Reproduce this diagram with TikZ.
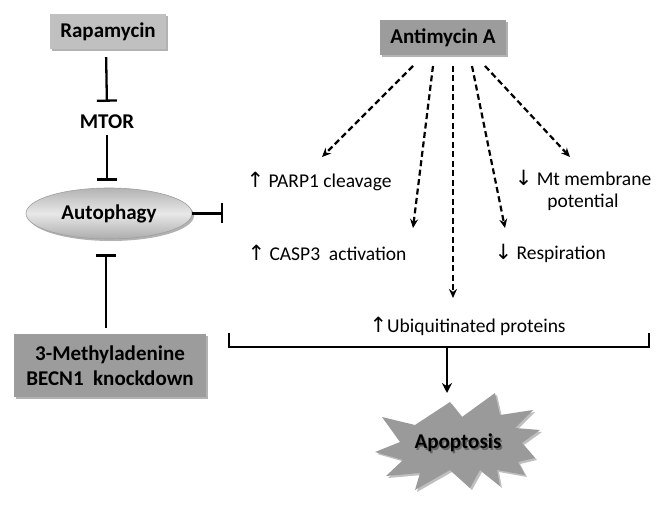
\documentclass[tikz,border=0pt]{standalone}
\usepackage{fontspec}
\setmainfont{Carlito}
\newfontfamily\arr{DejaVu Sans}
\usetikzlibrary{arrows.meta,shapes.geometric,shadows,calc}
\definecolor{lightbox}{HTML}{C0C0C0}
\definecolor{darkbox}{HTML}{9C9C9C}
\definecolor{burst}{HTML}{9A9A9A}
\newcommand{\up}{{\arr\fontsize{21}{22}\selectfont ↑}}
\newcommand{\dn}{{\arr\fontsize{21}{22}\selectfont ↓}}
\begin{document}
\begin{tikzpicture}[x=1pt,y=-1pt,
  bt/.style={font=\fontsize{21}{25}\selectfont\bfseries},
  nt/.style={font=\fontsize{19.5}{22}\selectfont},
  shad/.style={drop shadow={shadow xshift=2pt,shadow yshift=-2pt,opacity=0.3,fill=black}},
  lbox/.style={bt,fill=lightbox,shad,inner sep=0pt},
  dbox/.style={bt,fill=darkbox,shad,inner sep=0pt,align=center},
  inh/.style={line width=2.3pt,-{Bar[width=20pt,line width=2.3pt]}},
  dsh/.style={line width=2.2pt,dash pattern=on 6pt off 3.5pt,-{Stealth[length=9pt,width=8pt]}},
  sol/.style={line width=2.3pt}
]
\useasboundingbox (0,0) rectangle (662,505);
% left column
\node[lbox,minimum width=116pt,minimum height=35pt] (rap) at (108,31.5) {Rapamycin};
\node[bt,minimum height=26pt,inner sep=0pt] (mtor) at (107,122) {MTOR};
\node[bt,ellipse,minimum width=166pt,minimum height=51pt,inner sep=0pt,
      draw=gray!75,line width=0.6pt,top color=gray!60,bottom color=gray!65,middle color=gray!18,shad] (aut) at (109,213.5) {Autophagy};
\node[dbox,minimum width=192pt,minimum height=63pt] (ma) at (110,365.5) {3-Methyladenine\\BECN1\ \ knockdown};
\coordinate (barR) at (223,213.5);
\draw[inh,shorten <=8pt,shorten >=7pt] ([xshift=-2pt]rap.south) -- (mtor.north);
\draw[inh,shorten >=7pt] (mtor.south) -- ([xshift=-2pt]aut.north);
\draw[inh] (aut.east) -- (barR);
\draw[inh,shorten <=6pt,shorten >=15pt] ([xshift=-4pt]ma.north) -- ([xshift=-3pt]aut.south);
% right part
\node[dbox,minimum width=126pt,minimum height=35pt] (anti) at (443,37.5) {Antimycin A};
\node[nt,anchor=west] (parp) at (243,181) {\up\ PARP1 cleavage};
\node[nt,anchor=west] (casp) at (244,253) {\up\ CASP3\ \ activation};
\node[nt,anchor=west] (resp) at (491,253) {\dn\ Respiration};
\node[nt,align=center] (mt) at (583,190) {\dn\ Mt membrane\\potential};
\node[nt,anchor=west] (ubi) at (366,326) {\up Ubiquitinated proteins};
\coordinate (s1) at (413,66); \coordinate (e1) at (322,157);
\coordinate (s2) at (433,66); \coordinate (e2) at (413,228);
\coordinate (s3) at (453,66); \coordinate (e3) at (453,298);
\coordinate (s4) at (472,66); \coordinate (e4) at (505,228);
\coordinate (s5) at (485,66); \coordinate (e5) at (570,157);
\foreach \i in {1,...,5} \draw[dsh] (s\i) -- (e\i);
% bracket
\coordinate (bl) at (229,334); \coordinate (br) at (649,334);
\coordinate (bm) at (447,347); \coordinate (ap) at (447,393);
\draw[sol,line cap=rect] (bl) |- (bm) -| (br);
\draw[sol,-{Stealth[length=10pt,width=10pt]}] (bm) -- (ap);
% apoptosis starburst
\fill[black,opacity=0.25,xshift=2pt,yshift=-2pt]
 (382,417) -- (415,425) -- (450,402) -- (462,417) -- (495,393) -- (500,415) -- (533,410) -- (515,428) -- (540,430) -- (522,443) -- (535,458) -- (518,462) -- (525,475) -- (497,470) -- (500,486) -- (480,470) -- (470,488) -- (450,470) -- (415,490) -- (420,473) -- (386,476) -- (403,460) -- (375,452) -- (400,442) -- cycle;
\fill[burst]
 (382,417) -- (415,425) -- (450,402) -- (462,417) -- (495,393) -- (500,415) -- (533,410) -- (515,428) -- (540,430) -- (522,443) -- (535,458) -- (518,462) -- (525,475) -- (497,470) -- (500,486) -- (480,470) -- (470,488) -- (450,470) -- (415,490) -- (420,473) -- (386,476) -- (403,460) -- (375,452) -- (400,442) -- cycle;
\node[bt,text=black,opacity=0.35] at (459.5,444.5) {Apoptosis};
\node[bt] (apo) at (458,443) {Apoptosis};
\end{tikzpicture}
\end{document}
